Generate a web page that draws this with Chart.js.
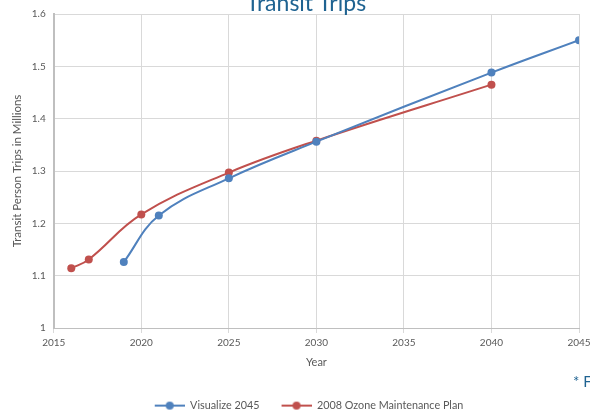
<!DOCTYPE html>
<html>
<head>
<meta charset="utf-8">
<script src="https://cdn.jsdelivr.net/npm/chart.js@4"></script>
<style>
  html, body { margin: 0; padding: 0; background: #fff; overflow: hidden; }
  #wrap { position: relative; width: 590px; height: 415px; }
  #title { position: absolute; left: 0; width: 612px; top: -12px; text-align: center;
           font: 23px Lato, "Liberation Sans", sans-serif; color: #1F6391; }
  #note { position: absolute; left: 573px; top: 372px;
          font: 15px Lato, "Liberation Sans", sans-serif; color: #1F6391; white-space: nowrap; }
</style>
</head>
<body>
<div id="wrap">
  <canvas id="chart" width="590" height="415"></canvas>
  <div id="title">Transit Trips</div>
  <div id="note">* F</div>
</div>
<script>
const visYears = [2019, 2021, 2025, 2030, 2040, 2045];
const visValues = [1.126, 1.215, 1.286, 1.356, 1.488, 1.55];
const ozoneYears = [2016, 2017, 2020, 2025, 2030, 2040];
const ozoneValues = [1.114, 1.131, 1.217, 1.297, 1.358, 1.465];
const seriesNames = ["Visualize 2045", "2008 Ozone Maintenance Plan"];
const xTicks = [2015, 2020, 2025, 2030, 2035, 2040, 2045];
const yTicks = [1, 1.1, 1.2, 1.3, 1.4, 1.5, 1.6];

const toPoints = (xs, ys) => xs.map((x, i) => ({ x: x, y: ys[i] }));

// legend marker: a short line with a dot, with blank room on the left as item spacing
const iconGap = 20;
const legendIcon = (color) => {
    const c = document.createElement("canvas");
    c.width = 30 + iconGap; c.height = 10;
    const g = c.getContext("2d");
    g.strokeStyle = color; g.lineWidth = 2;
    g.beginPath(); g.moveTo(iconGap, 5); g.lineTo(iconGap + 30, 5); g.stroke();
    g.fillStyle = color;
    g.beginPath(); g.arc(iconGap + 15, 5, 4, 0, Math.PI * 2); g.fill();
    return c;
};

const font = "Lato, 'Liberation Sans', sans-serif";
const blue = "#4F81BD";
const red = "#C0504D";

const makeSet = (label, xs, ys, color) => ({
    label: label,
    data: toPoints(xs, ys),
    borderColor: color,
    backgroundColor: color,
    borderWidth: 2,
    pointRadius: 4,
    pointHoverRadius: 4,
    pointBorderWidth: 0,
    showLine: true,
    tension: 0.4,
    pointStyle: "circle",
    legendIcon: legendIcon(color)
});

new Chart(document.getElementById("chart").getContext("2d"), {
    type: "scatter",
    data: {
        datasets: [
            makeSet(seriesNames[0], visYears, visValues, blue),
            makeSet(seriesNames[1], ozoneYears, ozoneValues, red)
        ]
    },
    options: {
        responsive: false,
        animation: false,
        layout: { padding: { left: 8, top: 6, right: 0, bottom: -6 } },
        plugins: {
            tooltip: { enabled: false },
            legend: {
                position: "bottom",
                labels: {
                    usePointStyle: true,
                    pointStyleWidth: 30 + iconGap,
                    boxHeight: 10,
                    color: "#595959",
                    font: { family: font, size: 10.8 },
                    padding: 2,
                    generateLabels: (chart) => chart.data.datasets.map((d, i) => ({
                        text: d.label,
                        pointStyle: d.legendIcon,
                        fontColor: "#595959",
                        strokeStyle: d.borderColor,
                        fillStyle: d.borderColor,
                        lineWidth: 0,
                        datasetIndex: i
                    }))
                }
            }
        },
        scales: {
            x: {
                type: "linear",
                min: 2015, max: 2045,
                afterBuildTicks: (s) => { s.ticks = xTicks.map(v => ({ value: v })); },
                // let the last label run off the edge like the original
                afterFit: (s) => { s.paddingRight = 11; },
                ticks: { color: "#595959", font: { family: font, size: 10 }, padding: 4,
                         callback: (v) => String(v) },
                grid: { color: "#d9d9d9", tickLength: 5, tickColor: "#d9d9d9" },
                border: { color: "#bfbfbf", width: 1 },
                title: { display: true, text: "Year", color: "#595959",
                         font: { family: font, size: 11 }, padding: { top: 3, bottom: 29 } }
            },
            y: {
                min: 1, max: 1.6,
                afterBuildTicks: (s) => { s.ticks = yTicks.map(v => ({ value: v })); },
                ticks: { color: "#595959", font: { family: font, size: 10 }, padding: 8,
                         callback: (v) => String(Math.round(v * 10) / 10) },
                grid: { color: "#d9d9d9", drawTicks: false },
                border: { color: "#bfbfbf", width: 2 },
                title: { display: true, text: "Transit Person Trips in Millions", color: "#595959",
                         font: { family: font, size: 11.5 }, padding: { top: 2, bottom: 0 } }
            }
        }
    }
});
</script>
</body>
</html>
